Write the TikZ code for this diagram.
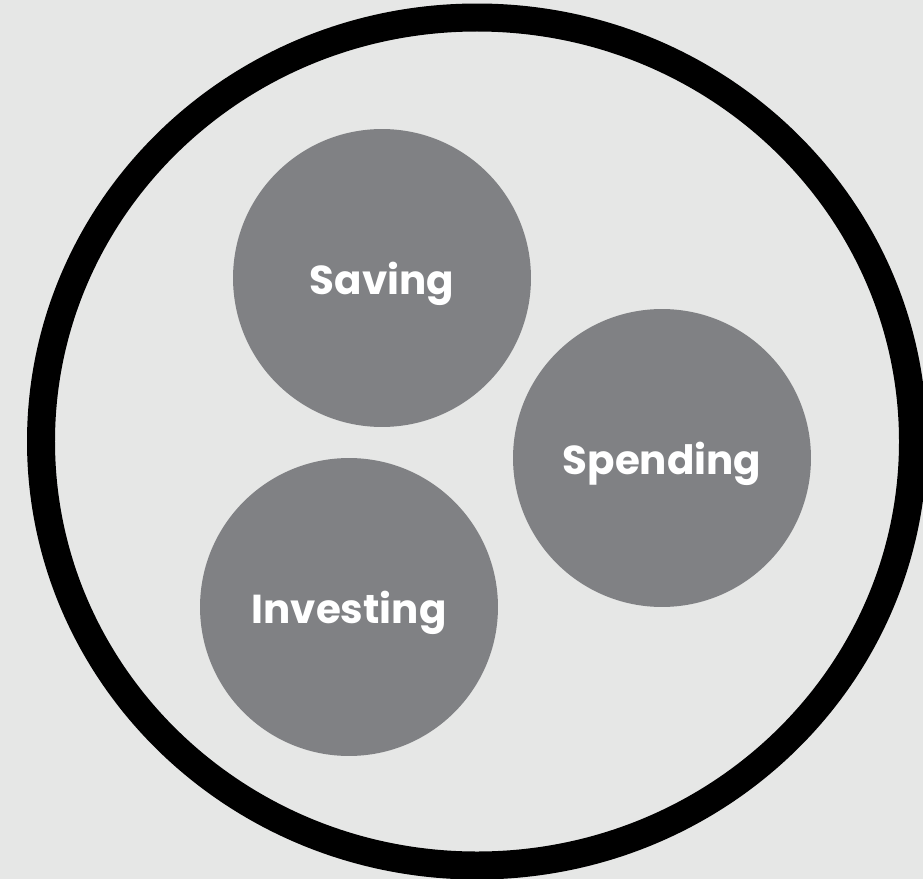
\documentclass[tikz,border=0pt]{standalone}
\usepackage{fontspec}
\setmainfont{Poppins}[Ligatures=NoCommon]
\definecolor{paper}{HTML}{E6E7E6}
\definecolor{blob}{HTML}{808184}

\begin{document}
\begin{tikzpicture}[x=0.02cm, y=-0.02cm]
   \fill[paper] (0,0) rectangle (923,879);
   \useasboundingbox (0,0) rectangle (923,879);
   \clip (0,0) rectangle (923,879);
   \draw[black, line width=0.56cm] (477,441.5) ellipse [x radius=436, y radius=424];
   \begin{scope}[every node/.style={circle,fill=blob,minimum size=5.96cm,inner sep=0pt,text depth=0pt,text=white,font=\bfseries\fontsize{23}{28}\selectfont}]
    \node (saving) at (382,278) {Saving};
    \node (spending) at (662,458) {Spending};
    \node (investing) at (349,607) {Investing};
   \end{scope}
\end{tikzpicture}
\end{document}
